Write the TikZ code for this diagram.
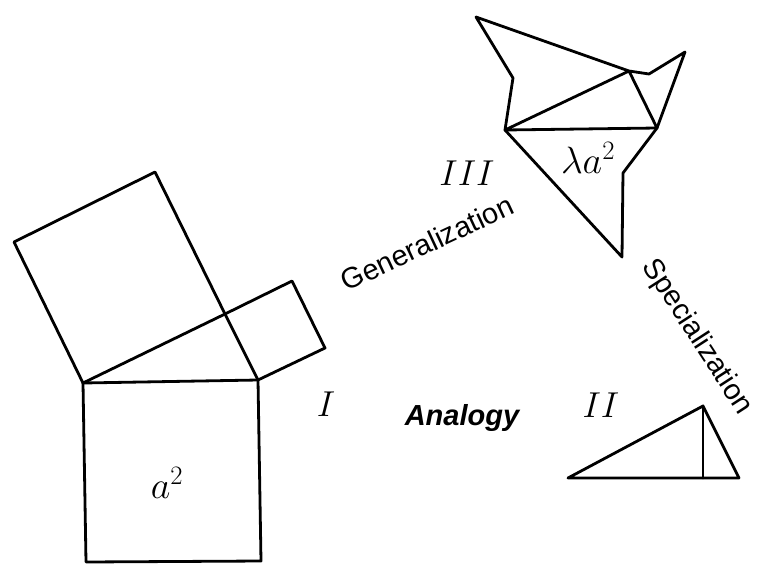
\RequirePackage{fix-cm}
\documentclass[tikz,border=0pt]{standalone}
\usepackage{fontspec}
\newfontfamily\labfont{Liberation Sans}
\tikzset{
  fig/.style={line width=2.8pt, line join=round, line cap=round},
  word/.style={font=\labfont\fontsize{29}{32}\selectfont, inner sep=0pt},
  numeral/.style={font=\fontsize{36}{40}\selectfont, inner sep=0pt, anchor=base},
  area/.style={font=\fontsize{38}{42}\selectfont, inner sep=0pt, anchor=base},
}
\begin{document}
\begin{tikzpicture}[x=1pt,y=-1pt]
\useasboundingbox (0,0) rectangle (758,563);
% --- figure I: right triangle with squares
\coordinate (A) at (83,383);
\coordinate (B) at (258,380);
\coordinate (C) at (225,314);
\coordinate (S1) at (14,242);
\coordinate (S2) at (155,172);
\coordinate (T1) at (292,281);
\coordinate (T2) at (325,348);
\coordinate (BL) at (86,562);
\coordinate (BR) at (261,561);
\draw[fig] (A) -- (S1) -- (S2) -- (C) -- (B);
\draw[fig] (A) -- (C) -- (T1) -- (T2) -- (B);
\draw[fig] (A) -- (B);
\draw[fig] (A) -- (BL) -- (BR) -- (B);
\node[area] (a2) at (167,498) {$a^2$};
% --- figure III: triangle with similar figures
\coordinate (D) at (505,130);
\coordinate (E) at (657,128);
\coordinate (F) at (629,71);
\coordinate (P1) at (513,78);
\coordinate (P2) at (476,17);
\coordinate (Q1) at (649,74);
\coordinate (Q2) at (685,52);
\coordinate (R1) at (622,257);
\coordinate (R2) at (623,173);
\draw[fig] (D) -- (P1) -- (P2) -- (F) -- (Q1) -- (Q2) -- (E) -- (R2) -- (R1) -- cycle;
\draw[fig] (D) -- (F) -- (E) -- cycle;
\node[area] (la2) at (588,173) {$\lambda a^2$};
% --- figure II: right triangle with altitude
\coordinate (U1) at (568,478);
\coordinate (U2) at (703,406);
\coordinate (U3) at (739,478);
\coordinate (U4) at (703,478);
\draw[fig] (U1) -- (U2) -- (U3) -- cycle;
\draw[fig] (U2) -- (U4);
% --- labels
\node[numeral] (n1) at (326,416) {$I$};
\node[numeral] (n2) at (601,417) {$II$};
\node[numeral] (n3) at (467,185) {$III$};
\node[word, rotate=25] (gen) at (427,243) {Generalization};
\node[word, rotate=-57] (spec) at (697,337) {Specialization};
\node[word, anchor=base, font=\labfont\bfseries\itshape\fontsize{29}{32}\selectfont] (ana) at (462,425) {Analogy};
\end{tikzpicture}
\end{document}
